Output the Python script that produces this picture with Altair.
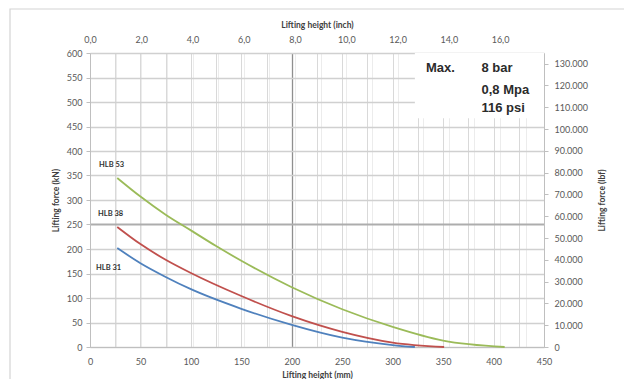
import altair as alt
import pandas as pd

# ---------------- data ----------------
mm_ticks = list(range(0, 451, 25))
kn_ticks = list(range(0, 601, 50))
inch_ticks = list(range(0, 18))
lbf_labels = list(range(0, 130001, 10000))

names = ["HLB 53", "HLB 38", "HLB 31"]
colors = ["#9bbb59", "#c0504d", "#4f81bd"]

hlb53_mm = [27, 50, 75, 100, 125, 150, 200, 250, 300, 350, 411]
hlb53_kn = [345, 307, 270, 238, 206, 176, 122, 77, 41, 13, 0]
hlb38_mm = [27, 50, 75, 100, 150, 200, 250, 300, 351]
hlb38_kn = [245, 210, 178, 151, 104, 63, 31, 9, 0]
hlb31_mm = [27, 50, 75, 100, 150, 200, 250, 300, 322]
hlb31_kn = [202, 171, 143, 118, 78, 45, 19, 4, 0]

label_mm = [9, 8, 6]
label_kn = [371, 271, 161]

box_mm = [322, 450]
box_kn = [467, 600]
box_text = ["Max.", "8 bar", "0,8 Mpa", "116 psi"]
box_text_mm = [333, 388, 388, 388]
box_text_kn = [569, 569, 524, 487]

MM_MAX = 450
KN_MAX = 600
INCH_MAX = MM_MAX / 25.4
LBF_MAX = KN_MAX * 224.809

FONT = "Lato"
LABEL_COLOR = "#595959"
TITLE_COLOR = "#404040"

# ---------------- frames ----------------
rows = []
for n, xv, yv in zip(names, [hlb53_mm, hlb38_mm, hlb31_mm], [hlb53_kn, hlb38_kn, hlb31_kn]):
    for x, y in zip(xv, yv):
        rows.append({"series": n, "mm": x, "kN": y})
curves = pd.DataFrame(rows)
labels_df = pd.DataFrame({"series": names, "mm": label_mm, "kN": label_kn})

def xs():
    return alt.Scale(domain=[0, MM_MAX], nice=False, zero=False)

def ys():
    return alt.Scale(domain=[0, KN_MAX], nice=False, zero=False)

cs = alt.Scale(domain=names, range=colors)

axis_font = dict(labelFont=FONT, labelFontSize=9, labelColor=LABEL_COLOR, labelFlush=False,
                 titleFont=FONT, titleFontSize=8.5, titleFontWeight="bold", titleColor=TITLE_COLOR)

lines = alt.Chart(curves).mark_line(strokeWidth=1.8, interpolate="monotone").encode(
    x=alt.X("mm:Q", scale=xs(), axis=alt.Axis(
        orient="bottom", values=mm_ticks, title="Lifting height (mm)",
        labelExpr="datum.value % 50 == 0 ? datum.label : ''",
        grid=True,
        gridColor={"condition": {"test": "datum.value == 200", "value": "#8f8f8f"},
                   "value": "#d9d9d9"},
        gridWidth={"condition": {"test": "datum.value == 200", "value": 1.3}, "value": 1},
        tickSize=0, labelPadding=10, titlePadding=4, domainColor="#bfbfbf", **axis_font)),
    y=alt.Y("kN:Q", scale=ys(), axis=alt.Axis(
        orient="left", values=kn_ticks, title="Lifting force (kN)",
        grid=True,
        gridColor={"condition": {"test": "datum.value == 250", "value": "#adadad"},
                   "value": "#d0d0d0"},
        gridWidth={"condition": {"test": "datum.value == 250", "value": 1.8}, "value": 1.4},
        tickSize=4, tickColor="#bfbfbf", labelPadding=4, titlePadding=6, domainColor="#bfbfbf",
        **axis_font)),
    color=alt.Color("series:N", scale=cs, legend=None),
    detail="series:N")

box = alt.Chart(pd.DataFrame({"x1": [box_mm[0]], "x2": [box_mm[1]], "y1": [box_kn[0]], "y2": [box_kn[1]]})).mark_rect(
    fill="white").encode(
    x=alt.X("x1:Q", scale=xs(), axis=None), x2="x2:Q",
    y=alt.Y("y1:Q", scale=ys(), axis=None), y2="y2:Q")

btext = alt.Chart(pd.DataFrame({"t": box_text, "mm": box_text_mm, "kN": box_text_kn})).mark_text(
    align="left", baseline="middle", font="Liberation Sans", fontWeight="bold", fontSize=13, color="#2b2b2b"
).encode(x=alt.X("mm:Q", scale=xs(), axis=None), y=alt.Y("kN:Q", scale=ys(), axis=None), text="t:N")

names_txt = alt.Chart(labels_df).mark_text(
    align="left", baseline="middle", font=FONT, fontSize=7.5, fontWeight="bold", color="#333333"
).encode(x=alt.X("mm:Q", scale=xs(), axis=None), y=alt.Y("kN:Q", scale=ys(), axis=None), text="series:N")

border = alt.Chart(pd.DataFrame({"a": [0]})).mark_rect(
    fillOpacity=0, stroke="#d4d4d4", strokeWidth=1.2
).encode(x=alt.value(-80), x2=alt.value(560), y=alt.value(-44), y2=alt.value(360))

axes = alt.Chart(pd.DataFrame({"inch": [0, INCH_MAX], "lbf": [0, LBF_MAX]})).mark_point(opacity=0).encode(
    x=alt.X("inch:Q", scale=alt.Scale(domain=[0, INCH_MAX], nice=False, zero=False), axis=alt.Axis(
        orient="top", values=inch_ticks, title="Lifting height (inch)",
        labelExpr="datum.value % 2 == 0 ? replace(format(datum.value, '.1f'), '.', ',') : ''",
        grid=True, gridColor="#ececec",
        ticks=False, domain=False, labelPadding=9, titlePadding=6, **axis_font)),
    y=alt.Y("lbf:Q", scale=alt.Scale(domain=[0, LBF_MAX], nice=False, zero=False), axis=alt.Axis(
        orient="right", values=lbf_labels, title="Lifting force (lbf)", grid=False,
        labelExpr="replace(format(datum.value, ','), ',', '.')",
        tickSize=4, tickColor="#bfbfbf", labelPadding=6, titlePadding=19, domainColor="#bfbfbf",
        titleAngle=270, titleBaseline="bottom", **axis_font)),
)

chart = alt.layer(axes, lines, box, btext, names_txt, border).resolve_scale(
    x="independent", y="independent").properties(
    width=454, height=294,
    padding={"left": 82, "top": 45, "right": 80, "bottom": 32},
    autosize=alt.AutoSizeParams(type="none"),
    background="white",
).configure_view(stroke=None)

chart.save("out.html", embed_options={"renderer": "svg", "actions": False})
